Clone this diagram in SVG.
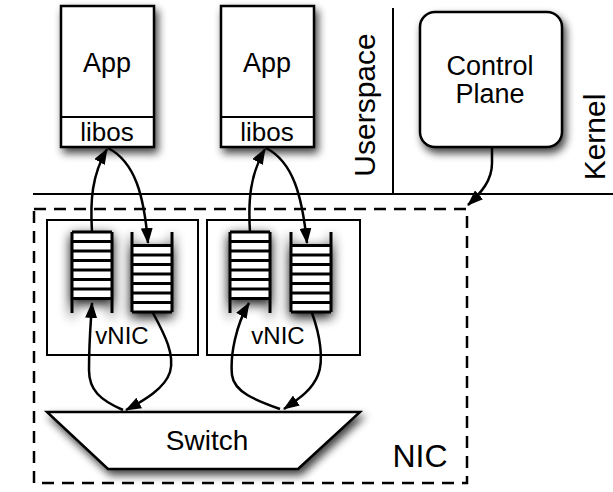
<svg xmlns="http://www.w3.org/2000/svg" width="613" height="492" viewBox="0 0 613 492">
  <defs>
    <style>
      text { font-family: "Liberation Sans", Arial, Helvetica, sans-serif; fill: #000; }
      .box { fill: #fff; stroke: #000; stroke-width: 2.5; }
      .thin { fill: #fff; stroke: #000; stroke-width: 2; }
      .rule { fill: none; stroke: #000; stroke-width: 2; }
      .rung { stroke: #000; stroke-width: 3; }
      .side { stroke: #000; stroke-width: 3; fill: none; }
      .wire { fill: none; stroke: #000; stroke-width: 2.5; marker-end: url(#head); }
    </style>
    <filter id="shadow" x="-20%" y="-20%" width="150%" height="150%">
      <feGaussianBlur in="SourceAlpha" stdDeviation="4"/>
      <feOffset dx="3" dy="5" result="b"/>
      <feComponentTransfer><feFuncA type="linear" slope="0.75"/></feComponentTransfer>
      <feMerge><feMergeNode/><feMergeNode in="SourceGraphic"/></feMerge>
    </filter>
    <filter id="glow" x="-60%" y="-40%" width="220%" height="180%">
      <feGaussianBlur in="SourceAlpha" stdDeviation="6"/>
      <feOffset dx="0" dy="4"/>
      <feComponentTransfer><feFuncA type="linear" slope="0.95"/></feComponentTransfer>
      <feMerge><feMergeNode/><feMergeNode in="SourceGraphic"/></feMerge>
    </filter>
    <marker id="head" viewBox="0 0 16 12" refX="15" refY="6" markerWidth="16" markerHeight="12" markerUnits="userSpaceOnUse" orient="auto">
      <path d="M0,0 L16,6 L0,12 z" fill="#000"/>
    </marker>
    <!-- queue drawn from the top (closed top, open bottom) -->
    <g id="txq">
      <rect x="0" y="0" width="40" height="67" fill="#fff"/>
      <path class="side" d="M0,0 V81 M40,0 V81"/>
      <path class="rung" d="M0,0 H40 M0,9.5 H40 M0,19 H40 M0,28.5 H40 M0,38 H40 M0,47.5 H40 M0,57 H40 M0,66.5 H40"/>
    </g>
    <!-- queue filled from the bottom (open top, closed bottom) -->
    <g id="rxq">
      <rect x="0" y="13.5" width="40" height="66.5" fill="#fff"/>
      <path class="side" d="M0,0 V80 M40,0 V80"/>
      <path class="rung" d="M0,80 H40 M0,70.5 H40 M0,61 H40 M0,51.5 H40 M0,42 H40 M0,32.5 H40 M0,23 H40 M0,13.5 H40"/>
    </g>
  </defs>

  <rect width="613" height="492" fill="#fff"/>

  <!-- userspace / kernel boundaries -->
  <g id="boundaries">
    <line class="rule" x1="33" y1="194" x2="613" y2="194"/>
    <line class="rule" x1="393" y1="8" x2="393" y2="194"/>
    <text transform="translate(375,105) rotate(-90)" font-size="30" text-anchor="middle">Userspace</text>
    <text transform="translate(605,137) rotate(-90)" font-size="30" text-anchor="middle">Kernel</text>
  </g>

  <!-- NIC enclosure -->
  <g id="nic">
    <rect x="34" y="209" width="433" height="274" fill="none" stroke="#000" stroke-width="2.5" stroke-dasharray="12 8"/>
    <text x="420" y="467" font-size="32" text-anchor="middle">NIC</text>
  </g>

  <g id="app1">
    <rect class="box" x="61" y="6" width="93" height="141" filter="url(#shadow)"/>
    <line class="rule" x1="61" y1="117" x2="154" y2="117" stroke-width="2.5"/>
    <text x="107" y="72" font-size="27" text-anchor="middle">App</text>
    <text x="107" y="141" font-size="26" text-anchor="middle">libos</text>
  </g>

  <g id="app2">
    <rect class="box" x="221" y="6" width="93" height="141" filter="url(#shadow)"/>
    <line class="rule" x1="221" y1="117" x2="314" y2="117" stroke-width="2.5"/>
    <text x="267" y="72" font-size="27" text-anchor="middle">App</text>
    <text x="267" y="141" font-size="26" text-anchor="middle">libos</text>
  </g>

  <g id="control-plane">
    <rect class="box" x="420" y="12" width="142" height="135" rx="15" filter="url(#shadow)"/>
    <text x="490" y="75" font-size="27" text-anchor="middle">Control</text>
    <text x="490" y="103" font-size="27" text-anchor="middle">Plane</text>
  </g>

  <g id="vnic1">
    <rect class="thin" x="47" y="220" width="151" height="135"/>
    <use href="#txq" x="72" y="232" filter="url(#glow)"/>
    <use href="#rxq" x="132" y="232" filter="url(#glow)"/>
    <text x="122" y="344" font-size="24" text-anchor="middle">vNIC</text>
  </g>

  <g id="vnic2">
    <rect class="thin" x="207" y="220" width="153" height="135"/>
    <use href="#txq" x="230" y="232" filter="url(#glow)"/>
    <use href="#rxq" x="291" y="232" filter="url(#glow)"/>
    <text x="278" y="344" font-size="24" text-anchor="middle">vNIC</text>
  </g>

  <g id="switch">
    <polygon class="box" points="47,412 360,412 298,469 108,469" filter="url(#shadow)"/>
    <text x="207" y="450" font-size="28" text-anchor="middle">Switch</text>
  </g>

  <g id="connectors">
    <!-- vNIC 1 to libos and back -->
    <path class="wire" d="M92,232 C90,200 92,175 107,149"/>
    <path class="wire" d="M108,148 C135,162 144,195 148,243"/>
    <!-- vNIC 2 to libos and back -->
    <path class="wire" d="M250,232 C248,200 250,175 265,149"/>
    <path class="wire" d="M266,148 C293,162 302,195 307,243"/>
    <!-- switch to vNIC 1 -->
    <path class="wire" d="M123,410 C100,400 89,390 89,370 C89,340 91,320 92,303"/>
    <path class="wire" d="M153,313 C165,335 175,355 170,372 C165,388 145,400 126,410"/>
    <!-- switch to vNIC 2 -->
    <path class="wire" d="M280,409 C255,400 234,392 232,375 C230,355 236,325 249,303"/>
    <path class="wire" d="M312,313 C320,335 324,360 318,375 C312,390 300,398 284,409"/>
    <!-- control plane to NIC -->
    <path class="wire" d="M492,147 L492,163 C492,180 482,192 468,205"/>
  </g>
</svg>
